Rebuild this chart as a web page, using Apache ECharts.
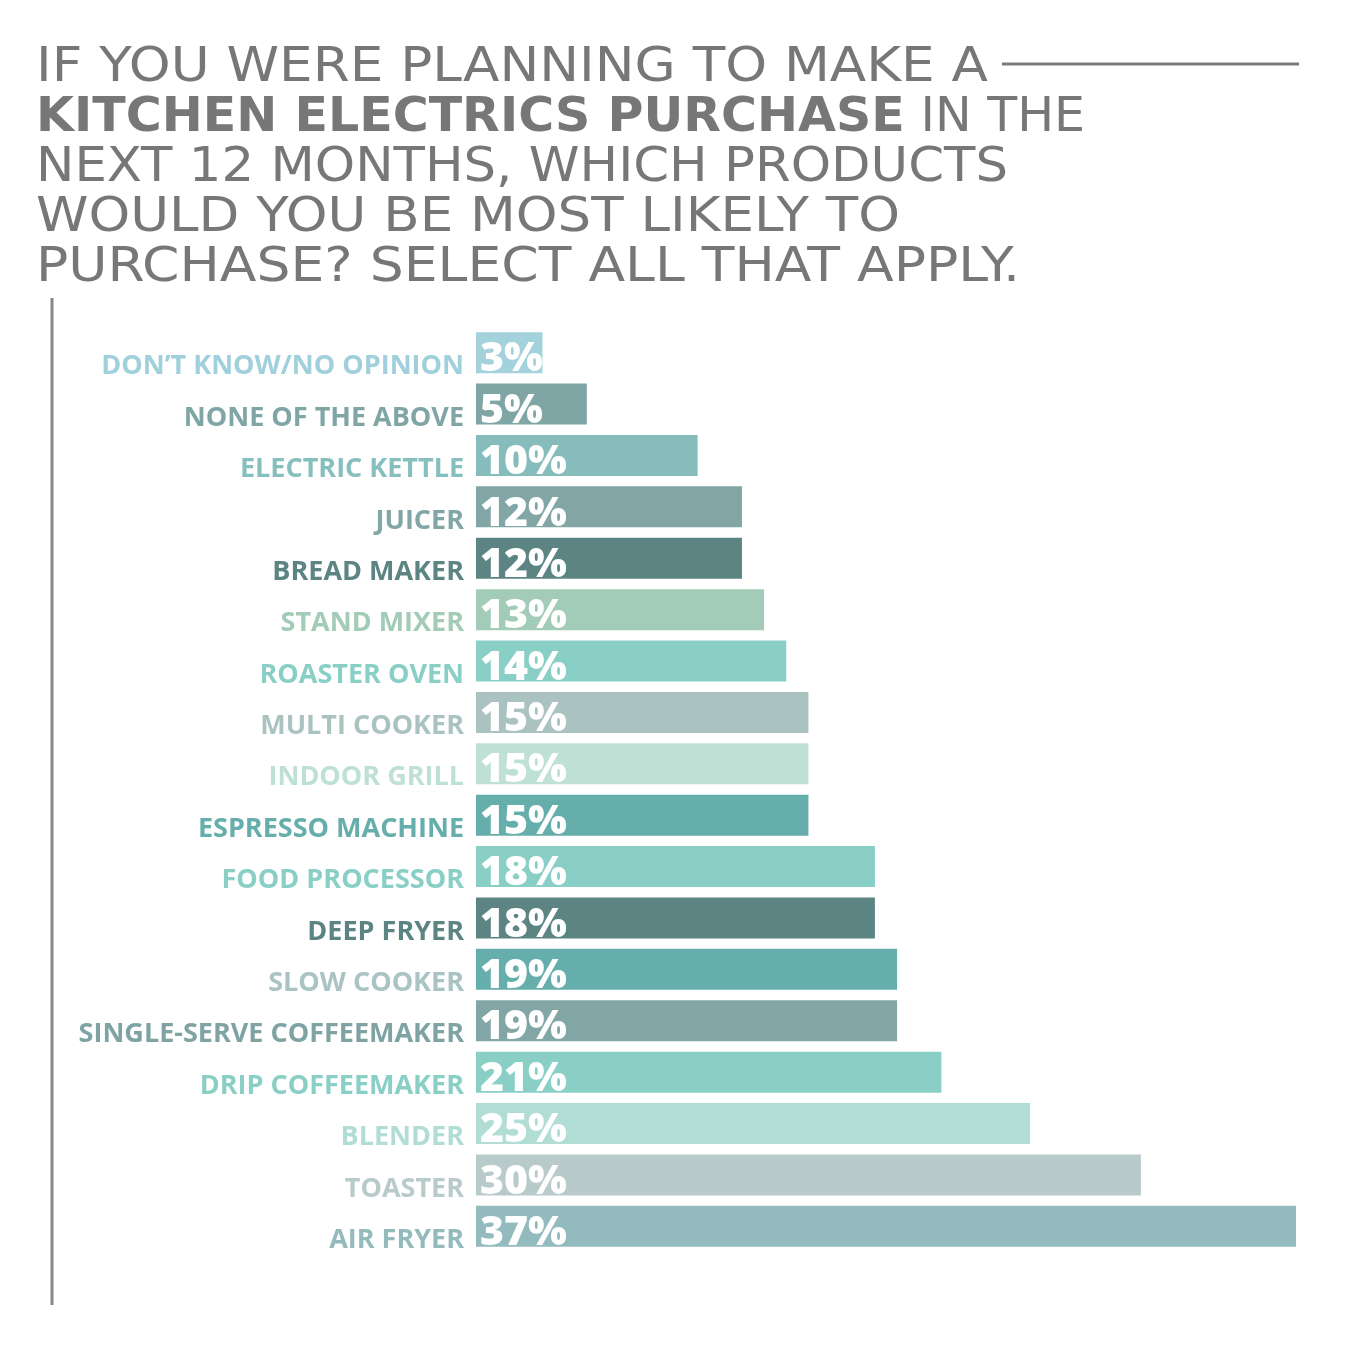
<!DOCTYPE html>
<html>
<head>
<meta charset="utf-8">
<script src="https://cdn.jsdelivr.net/npm/echarts@6/dist/echarts.min.js"></script>
<style>html,body{margin:0;padding:0;background:#fff}#c{width:1350px;height:1348px}</style>
</head>
<body>
<div id="c"></div>
<script>
const categories = ["DON’T KNOW/NO OPINION","NONE OF THE ABOVE","ELECTRIC KETTLE","JUICER","BREAD MAKER","STAND MIXER","ROASTER OVEN","MULTI COOKER","INDOOR GRILL","ESPRESSO MACHINE","FOOD PROCESSOR","DEEP FRYER","SLOW COOKER","SINGLE-SERVE COFFEEMAKER","DRIP COFFEEMAKER","BLENDER","TOASTER","AIR FRYER"];
const values = [3,5,10,12,12,13,14,15,15,15,18,18,19,19,21,25,30,37];
const barColors = ["#a3d1dc","#80a5a5","#86bcbc","#82a6a6","#5b8483","#a2cbb8","#89cfc6","#aac3c1","#bfe0d5","#65aeab","#89cfc6","#5b8483","#65aeab","#82a6a6","#89cfc6","#b1ddd4","#b9cacb","#93babd"];
const labelColors = ["#9fd0db","#80a5a5","#87bfbf","#82a6a6","#5b8483","#a2cbb8","#89cfc6","#aac3c1","#bfe0d5","#65aeab","#89cfc6","#5b8483","#a9c4c2","#7fa3a3","#89cfc6","#b1ddd4","#b9cacb","#93babd"];
const titleLines = ["IF YOU WERE PLANNING TO MAKE A", ["KITCHEN ELECTRICS PURCHASE", " IN THE"], "NEXT 12 MONTHS, WHICH PRODUCTS", "WOULD YOU BE MOST LIKELY TO", "PURCHASE? SELECT ALL THAT APPLY."];
const titleWidths = [952, 1049, 972, 864, 984];

const chart = echarts.init(document.getElementById('c'));
const TF = '"DejaVu Sans", sans-serif';
const ctx = document.createElement('canvas').getContext('2d');
function tw(text, weight) { ctx.font = weight + ' 48px ' + TF; return ctx.measureText(text).width; }
const graphics = [];
titleLines.forEach((ln, i) => {
  const y = 45 + i * 50;
  if (Array.isArray(ln)) {
    const w = tw(ln[0], 'bold') + tw(ln[1], 'normal');
    graphics.push({type:'text', x:36, y:y, scaleX:titleWidths[i] / w, style:{
      text:'{b|' + ln[0] + '}{r|' + ln[1] + '}', verticalAlign:'top',
      rich:{ b:{fontFamily:TF, fontSize:48, fontWeight:'bold', fill:'#777777'}, r:{fontFamily:TF, fontSize:48, fill:'#777777'} }
    }});
  } else {
    const w = tw(ln, 'normal');
    graphics.push({type:'text', x:36, y:y, scaleX:titleWidths[i] / w, style:{text:ln, verticalAlign:'top', fontFamily:TF, fontSize:48, fill:'#777777'}});
  }
});
graphics.push({type:'line', shape:{x1:1002,y1:64,x2:1299,y2:64}, style:{stroke:'#7a7a7a', lineWidth:3}});
graphics.push({type:'line', shape:{x1:52,y1:298,x2:52,y2:1305}, style:{stroke:'#888888', lineWidth:3}});

chart.setOption({
  animation:false,
  grid:{left:476, right:54, top:327, bottom:1348-1252, containLabel:false},
  xAxis:{type:'value', min:0, max:37, show:false},
  yAxis:{type:'category', data:categories, inverse:true,
    axisLine:{show:false}, axisTick:{show:false}, splitLine:{show:false},
    axisLabel:{margin:12, fontFamily:'"Open Sans", sans-serif', fontWeight:'bold', fontSize:27,
      color:(v, i) => labelColors[i], verticalAlign:'top', lineHeight:28}
  },
  series:[{
    type:'bar', barWidth:41,
    data: values.map((v,i) => ({value:v, itemStyle:{color:barColors[i]}})),
    label:{show:true, position:'insideLeft', distance:4, offset:[0,7], color:'#ffffff',
      fontFamily:'"Open Sans", sans-serif', fontWeight:800, fontSize:41,
      formatter: p => p.value + '%'}
  }],
  graphic: graphics
});
</script>
</body>
</html>
